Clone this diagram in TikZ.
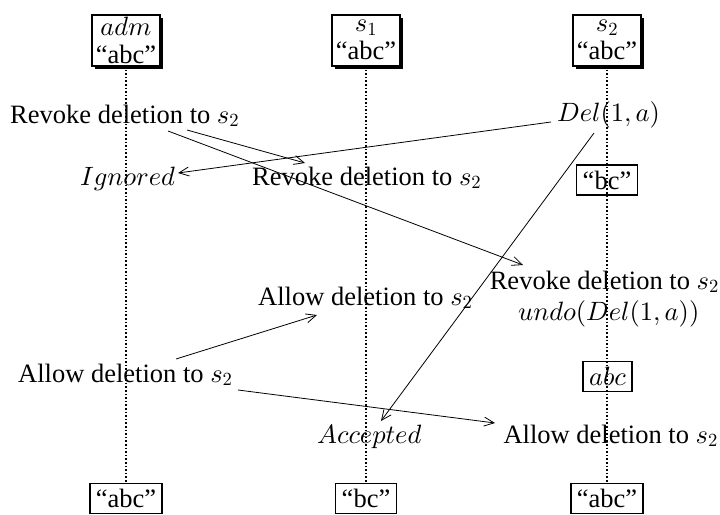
\documentclass[tikz,border=0pt]{standalone}
\usepackage{fontspec}
\setmainfont{Liberation Serif}
\DeclareFontShape{OML}{cmm}{m}{it}{<-9>cmmi7 <9->cmmi10}{}
\DeclareFontShape{OT1}{cmr}{m}{n}{<-9>cmr7 <9->cmr10}{}
\usetikzlibrary{arrows.meta,shadows}
\begin{document}
\begin{tikzpicture}[x=1pt,y=-1pt,
  font=\fontsize{26.5}{28}\selectfont,
  every node/.style={inner sep=0pt},
  lbl/.style={anchor=base west},
  lblr/.style={anchor=base east},
  head/.style={draw, line width=2pt, fill=white, align=center,
    minimum width=68pt, minimum height=51pt, inner sep=2pt,
    drop shadow={shadow xshift=3pt, shadow yshift=-3pt, fill=black, opacity=1}},
  endbox/.style={draw, line width=1.5pt, inner xsep=6pt, inner ysep=0pt, minimum height=30pt},
  midbox/.style={draw, line width=1.5pt, inner xsep=6pt, inner ysep=0pt, minimum height=30pt},
  life/.style={dotted, line width=1.6pt},
  msg/.style={-{Straight Barb[length=10pt,width=9pt]}, line width=0.8pt},
]
\useasboundingbox (0,0) rectangle (720,514);

% heads
\node[head] (hadm) at (126,40) {$adm$\\``abc''};
\node[head] (hs1) at (366,40) {$s_1$\\``abc''};
\node[head] (hs2) at (607,40) {$s_2$\\``abc''};

% final states
\node[endbox] (eadm) at (126,498.5) {``abc''};
\node[endbox] (es1) at (366,498.5) {``bc''};
\node[endbox] (es2) at (607,498.5) {``abc''};

% lifelines
\draw[life] ([yshift=-3pt]hadm.south) -- (eadm.north);
\draw[life] ([yshift=-3pt]hs1.south) -- (es1.north);
\draw[life] ([yshift=-3pt]hs2.south) -- (es2.north);

% intermediate states on s2
\node[midbox] (bc) at (607,180) {``bc''};
\node[midbox] (abc) at (607.5,376.5) {$abc$};

% labels
\node[lbl] (rev0) at (10,123) {Revoke deletion to $s_2$};
\node[lbl] (del) at (557,121) {$Del(1,a)$};
\node[lbl] (ign) at (80,185) {$Ignored$};
\node[lbl] (rev1) at (252,185) {Revoke deletion to $s_2$};
\node[lblr] (rev2) at (719,289) {Revoke deletion to $s_2$};
\node[lbl] (undo) at (518,320) {$undo(Del(1,a))$};
\node[lbl] (all1) at (258,305) {Allow deletion to $s_2$};
\node[lbl] (all0) at (18,382) {Allow deletion to $s_2$};
\node[lbl] (acc) at (317,443) {$Accepted$};
\node[lblr] (all2) at (718,443) {Allow deletion to $s_2$};

% arrow end points
\coordinate (delL) at (551,122);
\coordinate (ignR) at (178,173);
\coordinate (rev0a) at (187,130);
\coordinate (rev1T) at (305,163);
\coordinate (rev0b) at (168,131);
\coordinate (rev2T) at (523,265);
\coordinate (delB) at (594,133);
\coordinate (accT) at (381,421);
\coordinate (all0a) at (176,359);
\coordinate (all1B) at (317,315);
\coordinate (all0b) at (238,390);
\coordinate (all2L) at (495,423);

\draw[msg] (delL) -- (ignR);
\draw[msg] (rev0a) -- (rev1T);
\draw[msg] (rev0b) -- (rev2T);
\draw[msg] (delB) -- (accT);
\draw[msg] (all0a) -- (all1B);
\draw[msg] (all0b) -- (all2L);
\end{tikzpicture}
\end{document}
